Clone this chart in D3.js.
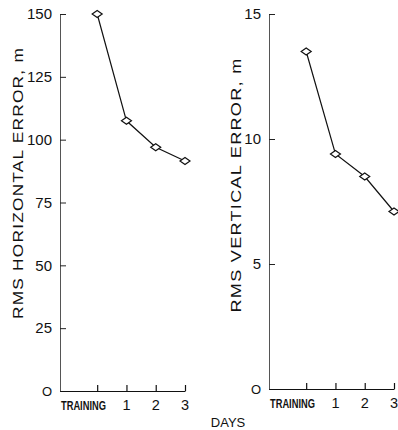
<!DOCTYPE html>
<html>
<head>
<meta charset="utf-8">
<script src="https://cdn.jsdelivr.net/npm/d3@7"></script>
<style>
  body { margin: 0; background: #fff; }
  svg text { font-family: "Liberation Sans", Arial, sans-serif; fill: #111; }
</style>
</head>
<body>
<div id="chart"></div>
<script>
// days: 0 = training, then day 1..3
const days = [0, 1, 2, 3]
const dayLabels = ["TRAINING", "1", "2", "3"]
const horizontalError = [150, 107.5, 97, 91.5]
const verticalError = [13.5, 9.4, 8.5, 7.1]
const horizontalTicks = [0, 25, 50, 75, 100, 125, 150]
const verticalTicks = [0, 5, 10, 15]

const width = 398
const height = 430

const svg = d3.select("#chart")
  .append("svg")
  .attr("width", width)
  .attr("height", height)

function panel(opts) {
  const x = d3.scaleLinear()
    .domain([-1.27, 3])
    .range([opts.left, opts.left + 125])

  const y = d3.scaleLinear()
    .domain(opts.domain)
    .range([opts.bottom, 14])

  const yAxis = d3.axisLeft(y)
    .tickValues(opts.ticks)
    .tickSizeInner(-6)
    .tickSizeOuter(0)
    .tickPadding(8)

  const gy = svg.append("g")
    .attr("transform", `translate(${opts.left},0)`)
    .call(yAxis)
  gy.select(".domain").attr("stroke", "#555").attr("stroke-width", 1)
  gy.selectAll(".tick line").attr("stroke", "#222")
  gy.selectAll(".tick text")
    .attr("font-size", d => d === 0 ? 13 : 15)
    .text(d => d === 0 ? "O" : d)

  const xAxis = d3.axisBottom(x)
    .tickValues(days)
    .tickSizeInner(-6)
    .tickSizeOuter(0)
    .tickFormat("")

  const gx = svg.append("g")
    .attr("transform", `translate(0,${opts.bottom})`)
    .call(xAxis)
  gx.select(".domain").attr("stroke", "#111").attr("stroke-width", 1.2)
  gx.selectAll(".tick line").attr("stroke", "#111").attr("stroke-width", 1.2)

  const labelY = opts.bottom + 19

  // "TRAINING" is set condensed, left aligned at the axis start
  svg.append("text")
    .attr("transform", `translate(${opts.left + 1},${labelY}) scale(0.69,1)`)
    .attr("font-size", 13.5)
    .attr("font-weight", "bold")
    .text(dayLabels[0])

  svg.append("g")
    .selectAll("text")
    .data(days.slice(1))
    .join("text")
    .attr("x", d => x(d))
    .attr("y", labelY)
    .attr("text-anchor", "middle")
    .attr("font-size", 14.5)
    .text((d, i) => dayLabels[i + 1])

  svg.append("text")
    .attr("transform", `translate(${opts.labelX},${opts.labelY}) rotate(-90)`)
    .attr("text-anchor", "middle")
    .attr("font-size", 14)
    .attr("letter-spacing", 1)
    .attr("textLength", opts.labelLength)
    .attr("lengthAdjust", "spacingAndGlyphs")
    .text(opts.label)

  const line = d3.line()
    .x((d, i) => x(days[i]))
    .y(d => y(d))

  svg.append("path")
    .datum(opts.values)
    .attr("d", line)
    .attr("fill", "none")
    .attr("stroke", "#111")
    .attr("stroke-width", 1.2)

  svg.append("g")
    .selectAll("path")
    .data(opts.values)
    .join("path")
    .attr("transform", (d, i) => `translate(${x(days[i])},${y(d)})`)
    .attr("d", "M-5,0L0,-3.5L5,0L0,3.5Z")
    .attr("fill", "#fff")
    .attr("stroke", "#111")
    .attr("stroke-width", 1.2)
}

panel({
  left: 60, bottom: 391, domain: [0, 150], ticks: horizontalTicks,
  values: horizontalError, label: "RMS HORIZONTAL ERROR, m",
  labelX: 23, labelY: 183, labelLength: 272
})

panel({
  left: 269, bottom: 389, domain: [0, 15], ticks: verticalTicks,
  values: verticalError, label: "RMS VERTICAL ERROR, m",
  labelX: 241, labelY: 185, labelLength: 255
})

svg.append("text")
  .attr("x", 228)
  .attr("y", 426.5)
  .attr("text-anchor", "middle")
  .attr("font-size", 13)
  .text("DAYS")
</script>
</body>
</html>
